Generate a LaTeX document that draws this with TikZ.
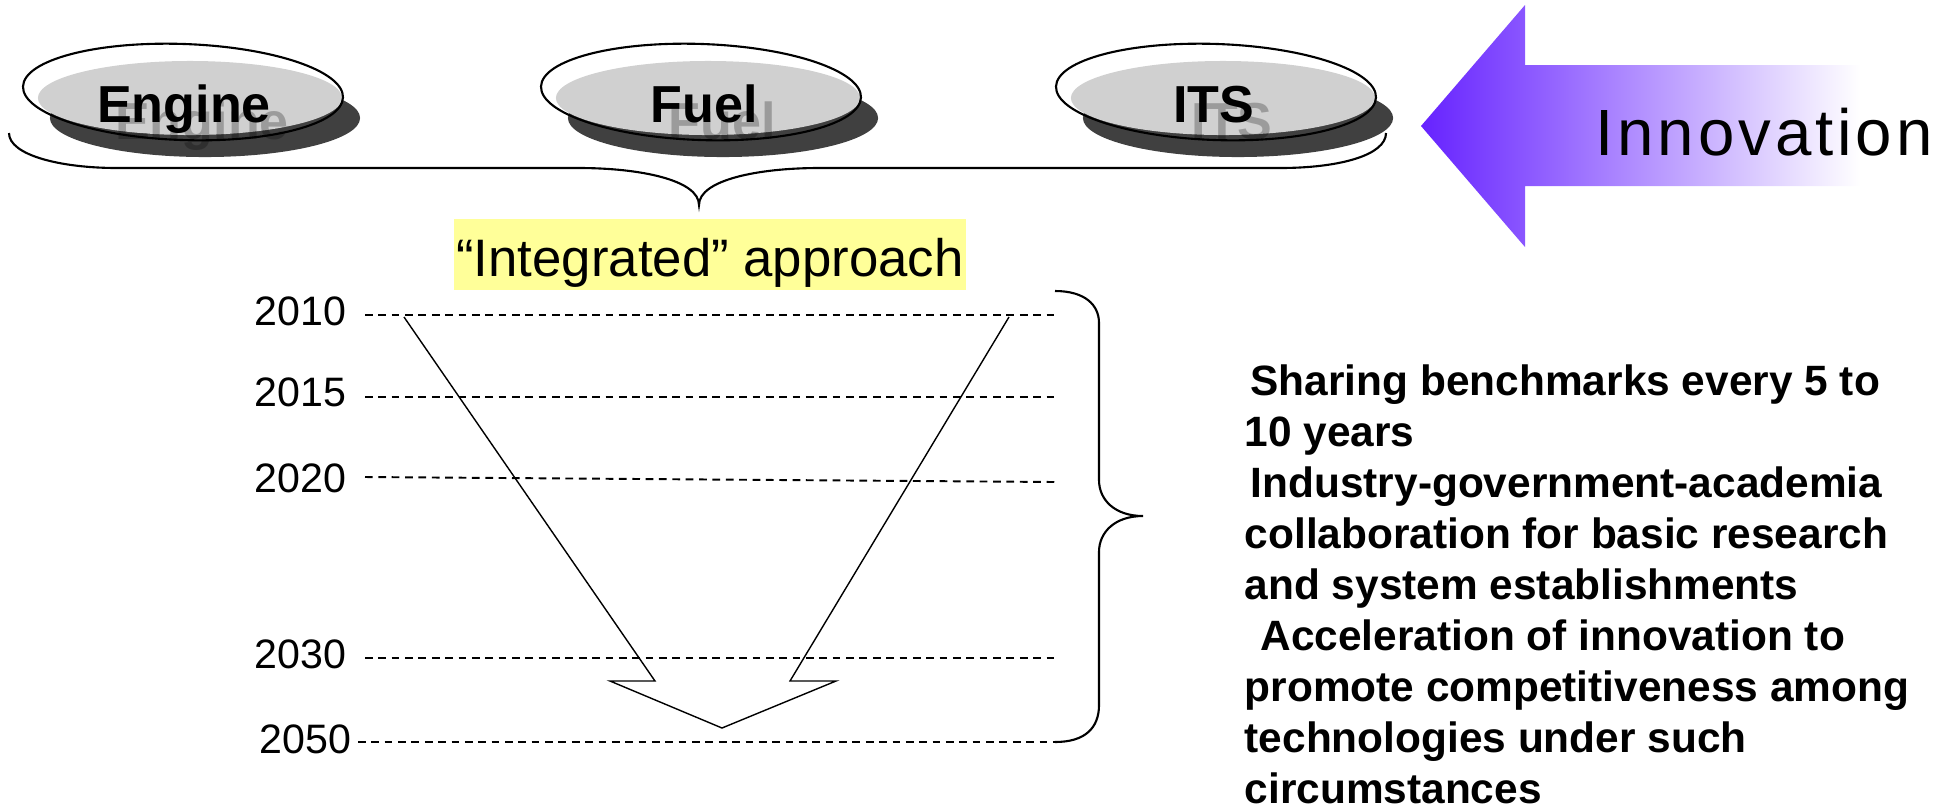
\documentclass[tikz,border=0pt]{standalone}
\usepackage{fontspec}
\setmainfont{Liberation Sans}
\newfontfamily\spacedfont[LetterSpace=6]{Liberation Sans}
\usepackage{tikz}
\usetikzlibrary{shapes.geometric}
\usetikzlibrary{positioning}
\usepackage{xcolor}
\definecolor{arrowviolet}{RGB}{102,34,255}
\definecolor{pillgray}{RGB}{208,208,208}
\definecolor{pillshade}{RGB}{64,64,64}
\definecolor{hiyellow}{RGB}{255,255,153}

\begin{document}
\begin{tikzpicture}[x=0.01cm,y=-0.01cm,
  pillrim/.style={ellipse,draw,line width=0.6pt,minimum width=3.2cm,minimum height=0.96cm,inner sep=0,rotate=-2},
  pillword/.style={anchor=base,inner sep=0,font=\fontsize{14.8pt}{17pt}\selectfont\bfseries},
  pillghost/.style={pillword,text=black,opacity=0.25},
  yearlabel/.style={anchor=base east,inner sep=0,font=\fontsize{11.7pt}{14pt}\selectfont},
  yearline/.style={line width=0.55pt,dash pattern=on 2.2pt off 1.6pt},
  bracket/.style={line width=0.6pt}]
\useasboundingbox (0,0) rectangle (1957,808);
% brace under the three pills
\draw[bracket] (9,133) .. controls (9,155) and (60,168) .. (117,168) -- (579,168)
  .. controls (640,168) and (699,180) .. (699,205)
  .. controls (699,180) and (758,168) .. (819,168) -- (1280,168)
  .. controls (1340,168) and (1386,155) .. (1386,133);
% pills
\fill[pillshade] (205,118) ellipse [x radius=1.55cm, y radius=0.39cm];
\fill[pillgray] (190,98) ellipse [x radius=1.52cm, y radius=0.37cm];
\node[pillghost] (engine ghost) at (202,139) {Engine};
\node[pillrim] (engine) at (183,92) {};
\node[pillword] (engine word) at (184,122) {Engine};
\fill[pillshade] (723,118) ellipse [x radius=1.55cm, y radius=0.39cm];
\fill[pillgray] (708,98) ellipse [x radius=1.52cm, y radius=0.37cm];
\node[pillghost] (fuel ghost) at (722,139) {Fuel};
\node[pillrim] (fuel) at (701,92) {};
\node[pillword] (fuel word) at (704,122) {Fuel};
\fill[pillshade] (1238,118) ellipse [x radius=1.55cm, y radius=0.39cm];
\fill[pillgray] (1223,98) ellipse [x radius=1.52cm, y radius=0.37cm];
\node[pillghost] (its ghost) at (1232,139) {ITS};
\node[pillrim] (its) at (1216,92) {};
\node[pillword] (its word) at (1214,122) {ITS};
% innovation arrow
\shade[left color=arrowviolet,right color=white] (1421,126) -- (1525,5) -- (1525,65) -- (1860,65)
  -- (1860,186) -- (1525,186) -- (1525,247) -- cycle;
\node[anchor=base,inner sep=0,font=\spacedfont\fontsize{18.6pt}{22pt}\selectfont] (innovation) at (1764,155) {Innovation};
\node[fill=hiyellow,anchor=base,inner xsep=0,inner ysep=0,minimum width=5.11cm,text height=0.57cm,text depth=0.14cm,
  font=\fontsize{15pt}{18pt}\selectfont] (approach) at (710,276) {“Integrated” approach};
% time axis
\node[yearlabel] (y2010) at (347,325) {2010};
\node[yearlabel] (y2015) at (347,406) {2015};
\node[yearlabel] (y2020) at (347,492) {2020};
\node[yearlabel] (y2030) at (347,668) {2030};
\node[yearlabel] (y2050) at (352,753) {2050};
\coordinate (e2010) at (1055,315);
\coordinate (e2015) at (1055,397);
\coordinate (e2020) at (1055,482);
\coordinate (e2030) at (1055,658);
\coordinate (e2050) at (1055,742);
\draw[yearline] ([shift={(18,-10)}]y2010.base east) -- (e2010);
\draw[yearline] ([shift={(18,-9)}]y2015.base east) -- (e2015);
\draw[yearline] ([shift={(18,-15)}]y2020.base east) -- (e2020);
\draw[yearline] ([shift={(18,-10)}]y2030.base east) -- (e2030);
\draw[yearline] ([shift={(6,-11)}]y2050.base east) -- (e2050);
% open arrow down
\draw[line width=0.4pt] (404,317) -- (655,681) -- (610,681) -- (722,728) -- (836,681) -- (790,681) -- (1009,317);
% brace at the right
\draw[bracket] (1055,291) .. controls (1085,291) and (1099,305) .. (1099,323) -- (1099,480)
  .. controls (1099,500) and (1115,516) .. (1143,516)
  .. controls (1115,516) and (1099,532) .. (1099,552) -- (1099,705)
  .. controls (1099,728) and (1085,742) .. (1055,742);
\node[anchor=north west,align=left,inner sep=0,font=\fontsize{12.06pt}{14.5pt}\selectfont\bfseries] (notes) at (1244,364)
  {\hspace{1.7pt}Sharing benchmarks every 5 to\\
   10 years\\
   \hspace{1.7pt}Industry-government-academia\\
   collaboration for basic research\\
   and system establishments\\
   \hspace{4.5pt}Acceleration of innovation to\\
   promote competitiveness among\\
   technologies under such\\
   circumstances};
\end{tikzpicture}
\end{document}
